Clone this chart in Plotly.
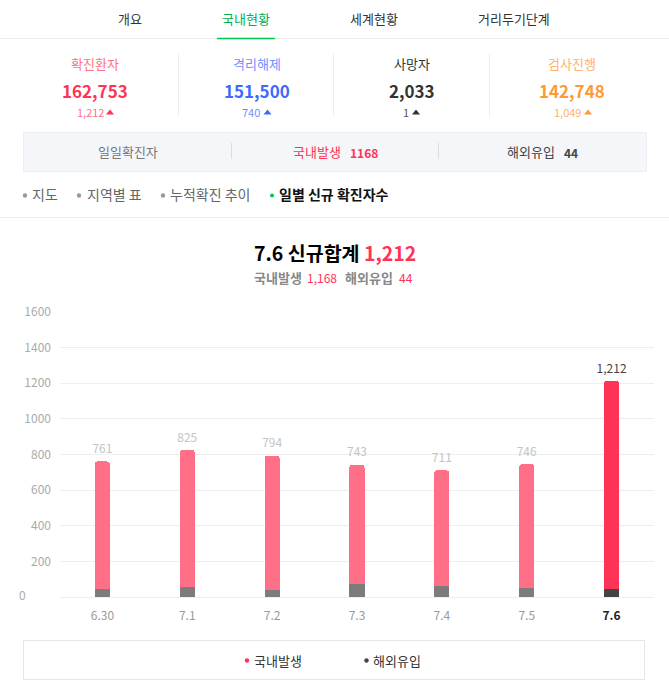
import plotly.graph_objects as go

WIDTH = 669
HEIGHT = 694
FONT = "Noto Sans CJK KR"

days = ["6.30", "7.1", "7.2", "7.3", "7.4", "7.5", "7.6"]
domestic = [716, 769, 754, 670, 649, 695, 1168]
overseas = [45, 56, 40, 73, 62, 51, 44]
totals = [761, 825, 794, 743, 711, 746, 1212]
y_ticks = [200, 400, 600, 800, 1000, 1200, 1400, 1600]

tabs = ["개요", "국내현황", "세계현황", "거리두기단계"]
stat_names = ["확진환자", "격리해제", "사망자", "검사진행"]
stat_values = ["162,753", "151,500", "2,033", "142,748"]
stat_deltas = ["1,212", "740", "1", "1,049"]
sub_tabs = ["지도", "지역별 표", "누적확진 추이", "일별 신규 확진자수"]

RED = "#ff3355"
BLUE = "#3d6bff"
DARK = "#333333"
ORANGE = "#ff9933"
GREEN = "#00c853"


def px(x):
    return x / WIDTH


def py(y):
    return 1 - y / HEIGHT


annotations = []
shapes = []


def label(x, y, text, size=13, color=DARK, anchor="center"):
    annotations.append(dict(x=px(x), y=py(y), xref="paper", yref="paper", text=text,
                            showarrow=False, xanchor=anchor, yanchor="middle",
                            font=dict(family=FONT, size=size, color=color)))


def line(x0, y0, x1, y1, color, width=1):
    shapes.append(dict(type="line", xref="paper", yref="paper", x0=px(x0), x1=px(x1),
                       y0=py(y0), y1=py(y1), line=dict(color=color, width=width)))


def dot(x, y, r, color):
    shapes.append(dict(type="circle", xref="paper", yref="paper", x0=px(x - r), x1=px(x + r),
                       y0=py(y - r), y1=py(y + r), fillcolor=color, line=dict(width=0)))


def triangle(x, y, color):
    path = "M %f %f L %f %f L %f %f Z" % (px(x - 4), py(y + 2.5), px(x + 4), py(y + 2.5), px(x), py(y - 2.5))
    shapes.append(dict(type="path", xref="paper", yref="paper", path=path,
                       fillcolor=color, line=dict(width=0)))


# top tabs
for x, name, color in zip([130, 246, 374, 514], tabs, [DARK, "#00b050", DARK, DARK]):
    label(x, 18.5, name, 13, color)
line(0, 38.5, 669, 38.5, "#eeeeee")
line(217, 38.5, 275, 38.5, GREEN, 1.5)

# counters
stat_colors = [RED, BLUE, DARK, ORANGE]
stat_soft = ["#ff7088", "#6f8fff", "#555555", "#ffb070"]
stat_x = [95, 256.5, 411.5, 572]
delta_x = [106, 262, 411, 583]
tri_x = [110, 267.5, 416, 588]
for i in range(4):
    label(stat_x[i], 63, stat_names[i], 13, stat_soft[i] if i != 2 else DARK)
    label(stat_x[i], 91, "<b>%s</b>" % stat_values[i], 17, stat_colors[i])
    label(delta_x[i], 112, stat_deltas[i], 11, stat_soft[i], "right")
    triangle(tri_x[i], 112, stat_colors[i])
for x in [178.5, 333.5, 489.5]:
    line(x, 54, x, 117, "#eeeeee")

# daily panel
shapes.append(dict(type="rect", xref="paper", yref="paper", x0=px(23.5), x1=px(646.5),
                   y0=py(132.5), y1=py(171.5), fillcolor="#f5f6fa", line=dict(color="#eceef2", width=1)))
line(231.5, 143, 231.5, 159, "#dddddd")
line(438.5, 143, 438.5, 159, "#dddddd")
label(128, 151.5, "일일확진자", 13, "#777777")
label(316.5, 151.5, "국내발생", 13, RED)
label(364, 152, "<b>%d</b>" % domestic[-1], 12, RED)
label(531, 151.5, "해외유입", 13, "#444444")
label(571, 152, "<b>%d</b>" % overseas[-1], 12, "#444444")

# sub tabs
for x, tx, name, i in zip([25, 79, 163, 272], [30, 85, 168, 277], sub_tabs, range(4)):
    if i == 3:
        dot(x, 195.5, 2, GREEN)
        label(tx, 194.5, "<b>%s</b>" % name, 14, "#111111", "left")
    else:
        dot(x, 195.5, 2.2, "#999999")
        label(tx, 194.5, name, 14, "#666666", "left")
line(0, 217.5, 669, 217.5, "#eeeeee")

# chart heading
label(334.5, 252.5, "<b>%s 신규합계 <span style=\"color:%s\">%s</span></b>"
      % (days[-1], RED, format(totals[-1], ",")), 19.5, "#000000")
label(252, 278, "<b>국내발생</b>", 13, "#888888", "left")
label(305, 278, format(domestic[-1], ","), 12, RED, "left")
label(343, 278, "<b>해외유입</b>", 13, "#888888", "left")
label(397, 278, str(overseas[-1]), 12, RED, "left")
label(22.5, 594, "0", 12, "#aaaaaa")

# legend box
shapes.append(dict(type="rect", xref="paper", yref="paper", x0=px(23.5), x1=px(644.5),
                   y0=py(640.5), y1=py(679.5), line=dict(color="#e6e6e6", width=1)))
dot(247, 660.5, 2.2, RED)
label(252, 660, "국내발생", 13, DARK, "left")
dot(366.5, 660.5, 2.2, "#444444")
label(371, 660, "해외유입", 13, DARK, "left")

fig = go.Figure()
fig.add_trace(go.Bar(
    x=days, y=overseas, name="해외유입", width=0.177,
    marker=dict(color=["#7c7c7c"] * (len(days) - 1) + ["#444444"], line=dict(width=0)),
))
fig.add_trace(go.Bar(
    x=days, y=domestic, name="국내발생", width=0.177,
    marker=dict(color=["#ff7088"] * (len(days) - 1) + [RED], line=dict(width=0)),
))
# invisible markers push the value labels up off the bar tops
fig.add_trace(go.Scatter(
    x=days, y=totals, mode="markers+text", text=[format(t, ",") for t in totals],
    textposition="top center", cliponaxis=False,
    marker=dict(size=7, color="rgba(0,0,0,0)"),
    textfont=dict(family=FONT, size=12, color=["#c4c4c4"] * (len(days) - 1) + ["#444444"]),
))

fig.update_layout(
    width=WIDTH, height=HEIGHT, showlegend=False, barmode="stack", barcornerradius=3,
    margin=dict(l=0, r=0, t=0, b=0, autoexpand=False),
    paper_bgcolor="#ffffff", plot_bgcolor="#ffffff",
    font=dict(family=FONT), annotations=annotations, shapes=shapes,
    xaxis=dict(domain=[px(60), px(654)], type="category", showgrid=False, showline=True,
               linecolor="#eeeeee", zeroline=False, ticks="", ticklabelstandoff=8,
               tickmode="array", tickvals=days,
               ticktext=[d for d in days[:-1]] + ["<b><span style=\"color:#222222\">%s</span></b>" % days[-1]],
               tickfont=dict(family=FONT, size=12, color="#999999")),
    yaxis=dict(domain=[py(597), py(312)], range=[0, 1600], showgrid=True, gridcolor="#eeeeee",
               zeroline=False, ticks="", ticklabelstandoff=8, tickmode="array", tickvals=y_ticks,
               tickfont=dict(family=FONT, size=12, color="#aaaaaa")),
)

fig.write_html("out.html", config={"displayModeBar": False},
               post_script="document.body.style.margin='0';document.body.style.overflow='hidden';")
